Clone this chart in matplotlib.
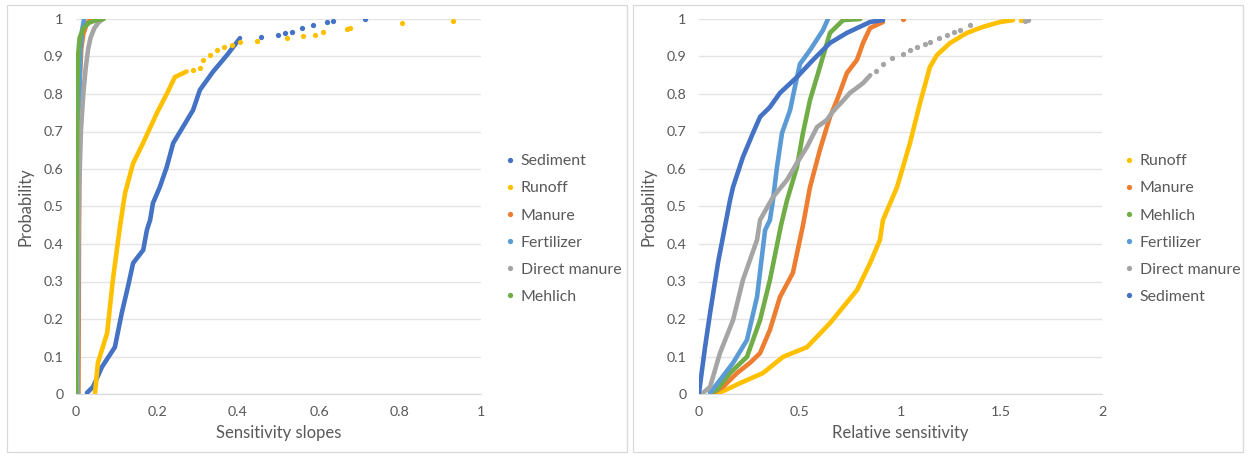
import matplotlib
matplotlib.use("Agg")
import matplotlib.pyplot as plt
from matplotlib.patches import Rectangle
from matplotlib.lines import Line2D

plt.rcParams['font.family'] = ['Lato', 'DejaVu Sans']

# colours (Office palette)
c_sed = '#4472C4'
c_run = '#FFC000'
c_man = '#ED7D31'
c_fer = '#5B9BD5'
c_dir = '#A5A5A5'
c_meh = '#70AD47'
txt = '#595959'
grid = '#E4E4E4'

# ---- sensitivity slopes (left) ----
# each series: connected body points, then loose tail points
sed_slope_x = [0.027, 0.042, 0.064, 0.096, 0.113, 0.128, 0.141, 0.166, 0.175, 0.183, 0.19,
               0.207, 0.224, 0.240, 0.264, 0.289, 0.306, 0.338, 0.373, 0.405]
sed_slope_p = [0.003, 0.019, 0.072, 0.125, 0.216, 0.285, 0.349, 0.384, 0.437, 0.464, 0.509,
               0.552, 0.605, 0.669, 0.712, 0.757, 0.811, 0.859, 0.904, 0.949]
sed_slope_tx = [0.457, 0.499, 0.516, 0.533, 0.558, 0.585, 0.62, 0.635, 0.714]
sed_slope_tp = [0.952, 0.957, 0.963, 0.965, 0.976, 0.984, 0.992, 0.995, 1.0]

run_slope_x = [0.047, 0.054, 0.077, 0.091, 0.109, 0.121, 0.141, 0.166, 0.20, 0.224, 0.244, 0.273]
run_slope_p = [0.003, 0.083, 0.163, 0.304, 0.45, 0.535, 0.615, 0.67, 0.75, 0.80, 0.845, 0.86]
run_slope_tx = [0.29, 0.306, 0.314, 0.33, 0.348, 0.365, 0.385, 0.405, 0.447, 0.521, 0.56,
                0.59, 0.61, 0.67, 0.677, 0.805, 0.931]
run_slope_tp = [0.865, 0.87, 0.89, 0.905, 0.917, 0.925, 0.93, 0.938, 0.941, 0.949, 0.955,
                0.957, 0.965, 0.972, 0.976, 0.989, 0.995]

man_slope_x = [0.006, 0.007, 0.008, 0.01, 0.013, 0.018, 0.026, 0.035]
man_slope_p = [0.0, 0.3, 0.6, 0.85, 0.92, 0.96, 0.985, 1.0]

fer_slope_x = [0.004, 0.006, 0.008, 0.011, 0.015, 0.02]
fer_slope_p = [0.0, 0.4, 0.8, 0.92, 0.97, 1.0]

dir_slope_x = [0.003, 0.005, 0.008, 0.012, 0.018, 0.024, 0.03, 0.036, 0.045, 0.055, 0.066]
dir_slope_p = [0.0, 0.3, 0.55, 0.7, 0.8, 0.87, 0.92, 0.95, 0.975, 0.99, 1.0]

meh_slope_x = [0.0, 0.001, 0.002, 0.003, 0.005, 0.009, 0.018, 0.032, 0.05, 0.068]
meh_slope_p = [0.0, 0.3, 0.6, 0.8, 0.9, 0.95, 0.975, 0.99, 0.997, 1.0]

# ---- relative sensitivity (right) ----
run_rel_x = [0.089, 0.204, 0.318, 0.417, 0.536, 0.65, 0.784, 0.849, 0.898, 0.913, 0.983,
             1.047, 1.097, 1.146, 1.181, 1.246, 1.33, 1.409, 1.494, 1.558]
run_rel_p = [0.0, 0.029, 0.056, 0.099, 0.125, 0.189, 0.277, 0.349, 0.411, 0.464, 0.552,
             0.669, 0.776, 0.872, 0.904, 0.936, 0.963, 0.979, 0.992, 0.997]
run_rel_tx = [1.60, 1.633]
run_rel_tp = [0.998, 1.0]

man_rel_x = [0.069, 0.119, 0.189, 0.253, 0.303, 0.352, 0.402, 0.466, 0.516, 0.551, 0.60,
             0.65, 0.685, 0.734, 0.784, 0.814, 0.849, 0.913]
man_rel_p = [0.003, 0.019, 0.056, 0.083, 0.109, 0.171, 0.259, 0.323, 0.45, 0.552, 0.651,
             0.739, 0.784, 0.856, 0.891, 0.936, 0.976, 0.992]
man_rel_tx = [1.012]
man_rel_tp = [1.0]

meh_rel_x = [0.055, 0.089, 0.154, 0.238, 0.303, 0.352, 0.407, 0.437, 0.486, 0.516, 0.551,
             0.60, 0.65, 0.715, 0.77, 0.80]
meh_rel_p = [0.003, 0.011, 0.056, 0.099, 0.197, 0.304, 0.45, 0.517, 0.605, 0.696, 0.784,
             0.872, 0.963, 0.997, 0.999, 1.0]

fer_rel_x = [0.055, 0.104, 0.169, 0.238, 0.288, 0.328, 0.352, 0.367, 0.387, 0.412, 0.452,
             0.476, 0.501, 0.551, 0.615, 0.64]
fer_rel_p = [0.003, 0.037, 0.083, 0.144, 0.259, 0.437, 0.464, 0.517, 0.605, 0.696, 0.757,
             0.819, 0.88, 0.917, 0.97, 1.0]

dir_rel_x = [0.02, 0.055, 0.104, 0.169, 0.218, 0.288, 0.303, 0.367, 0.437, 0.486, 0.536,
             0.586, 0.635, 0.66, 0.685, 0.72, 0.749, 0.78, 0.814, 0.85]
dir_rel_p = [0.003, 0.019, 0.109, 0.197, 0.304, 0.411, 0.464, 0.525, 0.571, 0.616, 0.659,
             0.712, 0.731, 0.75, 0.765, 0.785, 0.803, 0.815, 0.829, 0.85]
dir_rel_tx = [0.88, 0.913, 0.96, 1.012, 1.047, 1.082, 1.12, 1.146, 1.19, 1.231, 1.265,
              1.295, 1.345, 1.62, 1.633]
dir_rel_tp = [0.862, 0.88, 0.895, 0.907, 0.917, 0.925, 0.932, 0.939, 0.95, 0.957, 0.965,
              0.971, 0.984, 0.995, 0.998]

sed_rel_x = [0.0, 0.015, 0.03, 0.055, 0.094, 0.13, 0.154, 0.169, 0.218, 0.268, 0.303, 0.352,
             0.402, 0.486, 0.566, 0.65, 0.734, 0.849, 0.913]
sed_rel_p = [0.003, 0.064, 0.125, 0.216, 0.349, 0.45, 0.517, 0.552, 0.632, 0.696, 0.739,
             0.765, 0.803, 0.845, 0.891, 0.936, 0.963, 0.992, 0.997]

left_series = [
    ('Sediment', c_sed, sed_slope_x, sed_slope_p, sed_slope_tx, sed_slope_tp),
    ('Runoff', c_run, run_slope_x, run_slope_p, run_slope_tx, run_slope_tp),
    ('Manure', c_man, man_slope_x, man_slope_p, [], []),
    ('Fertilizer', c_fer, fer_slope_x, fer_slope_p, [], []),
    ('Direct manure', c_dir, dir_slope_x, dir_slope_p, [], []),
    ('Mehlich', c_meh, meh_slope_x, meh_slope_p, [], []),
]
right_series = [
    ('Runoff', c_run, run_rel_x, run_rel_p, run_rel_tx, run_rel_tp),
    ('Manure', c_man, man_rel_x, man_rel_p, man_rel_tx, man_rel_tp),
    ('Mehlich', c_meh, meh_rel_x, meh_rel_p, [], []),
    ('Fertilizer', c_fer, fer_rel_x, fer_rel_p, [], []),
    ('Direct manure', c_dir, dir_rel_x, dir_rel_p, dir_rel_tx, dir_rel_tp),
    ('Sediment', c_sed, sed_rel_x, sed_rel_p, [], []),
]

W, H = 1250, 457
fig = plt.figure(figsize=(W / 100, H / 100), dpi=100)
fig.patch.set_facecolor('white')

# chart-area frames
for x0, x1 in [(7, 627), (633, 1243)]:
    fig.patches.append(Rectangle((x0 / W, 1 - 452 / H), (x1 - x0) / W, 447 / H,
                                 transform=fig.transFigure, fill=False,
                                 edgecolor='#D9D9D9', lw=0.9))


def draw_panel(left_px, right_px, series, xmax, xstep, xlabel, legend_x):
    ax = fig.add_axes([left_px / W, 1 - 394 / H, (right_px - left_px) / W, 375 / H])
    for name, col, x, p, tx, tp in series:
        ax.plot(x, p, color=col, lw=3.3, solid_capstyle='round', solid_joinstyle='round',
                zorder=3)
        if tx:
            ax.plot(tx, tp, 'o', color=col, ms=3.8, mec='none', zorder=3)
    ax.set_xlim(0, xmax)
    ax.set_ylim(0, 1)
    ticks = [i * xstep for i in range(int(round(xmax / xstep)) + 1)]
    ax.set_xticks(ticks)
    ax.set_xticklabels([f'{t:g}' for t in ticks])
    yt = [i / 10 for i in range(11)]
    ax.set_yticks(yt)
    ax.set_yticklabels([f'{t:g}' for t in yt])
    ax.grid(axis='y', color=grid, lw=1)
    ax.set_axisbelow(True)
    for s in ['top', 'right', 'left']:
        ax.spines[s].set_visible(False)
    ax.spines['bottom'].set_color('#D9D9D9')
    ax.tick_params(length=0, labelsize=10.3, colors=txt, pad=9)
    ax.set_xlabel(xlabel, fontsize=12, color=txt, labelpad=5)
    ax.set_ylabel('Probability', fontsize=12, color=txt, labelpad=7)
    handles = [Line2D([], [], ls='none', marker='o', ms=3.8, mec='none', color=col)
               for _, col, *_ in series]
    fig.legend(handles, [s[0] for s in series], loc='center left',
               bbox_to_anchor=(legend_x / W, 1 - 229 / H), frameon=False,
               fontsize=11.4, labelcolor=txt, handlelength=0.5, handletextpad=0.45,
               labelspacing=0.82, borderpad=0)
    return ax


draw_panel(76, 481, left_series, 1, 0.2, 'Sensitivity slopes', 498)
draw_panel(699, 1102, right_series, 2, 0.5, 'Relative sensitivity', 1117)

fig.savefig('out.png', dpi=100)
